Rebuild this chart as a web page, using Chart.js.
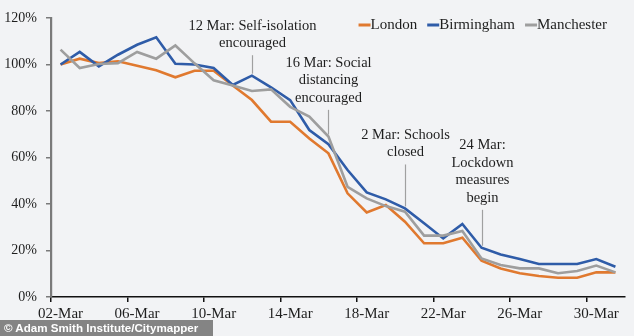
<!DOCTYPE html>
<html>
<head>
<meta charset="utf-8">
<script src="https://cdn.jsdelivr.net/npm/chart.js@4.4.1/dist/chart.umd.min.js"></script>
<style>
  html, body { margin: 0; padding: 0; background: #f2f3f5; }
  #wrap { position: relative; width: 634px; height: 336px; overflow: hidden; background: #f2f3f5; }
  #credit {
    position: absolute; left: 0; top: 320px; height: 16px; width: 213px;
    background: rgba(120,120,120,0.9); color: #fff;
    font: bold 11.6px "Liberation Sans", Arial, sans-serif; line-height: 16px;
    padding-left: 4px; box-sizing: border-box; white-space: nowrap;
  }
</style>
</head>
<body>
<div id="wrap">
  <canvas id="c" width="634" height="336"></canvas>
  <div id="credit">© Adam Smith Institute/Citymapper</div>
</div>
<script>
const categories = ['02-Mar','03-Mar','04-Mar','05-Mar','06-Mar','07-Mar','08-Mar','09-Mar','10-Mar','11-Mar',
  '12-Mar','13-Mar','14-Mar','15-Mar','16-Mar','17-Mar','18-Mar','19-Mar','20-Mar','21-Mar',
  '22-Mar','23-Mar','24-Mar','25-Mar','26-Mar','27-Mar','28-Mar','29-Mar','30-Mar','31-Mar'];

const london = [100, 102.5, 100.6, 101.4, 99.5, 97.5, 94.5, 97.3, 97.3, 91, 84.7, 75.4, 75.4, 68.2, 61.8,
  44.6, 36.4, 39.6, 32.4, 23.1, 23.1, 25.5, 15.6, 12.3, 10.2, 9.0, 8.3, 8.3, 10.6, 10.6];
const birmingham = [100, 105.4, 99.2, 104.2, 108.5, 111.7, 100.3, 100, 98.5, 91.2, 95.2, 90.2, 84.7, 71.8, 65.7,
  54.6, 45, 42, 38.1, 31.7, 25.2, 31.4, 21.2, 18.3, 16.3, 14.2, 14.2, 14.2, 16.3, 13.0];
const manchester = [106.4, 98.5, 100.2, 100.6, 105.4, 102.5, 108.2, 100.5, 93.2, 91, 88.6, 89.3, 81.8, 77.6, 69,
  47.4, 42.4, 39.1, 36.7, 26.4, 26.4, 28.4, 16.6, 13.8, 12.3, 12.3, 10.2, 11.2, 13.5, 10.6];

const seriesNames = ['London', 'Birmingham', 'Manchester'];
const seriesColors = ['#e0792f', '#2f5ca8', '#9e9e9e'];

const yTicks = [0, 20, 40, 60, 80, 100, 120];

// annotations: category index, text lines, value at top of leader line
const annoIndex = [10, 14, 18, 22];
const annoText = [
  ['12 Mar: Self-isolation', 'encouraged'],
  ['16 Mar: Social', 'distancing', 'encouraged'],
  ['2 Mar: Schools', 'closed'],
  ['24 Mar:', 'Lockdown', 'measures', 'begin']
];
const annoTopValue = [104, 80.5, 57, 37.5];

const SERIF = '"Liberation Serif", "DejaVu Serif", serif';
const TEXT = '#1e1e1e';

const overlay = {
  id: 'overlay',
  afterDatasetsDraw(chart) {
    const ctx = chart.ctx;
    const xs = chart.scales.x, ys = chart.scales.y;
    const all = [london, birmingham, manchester];
    ctx.save();
    ctx.font = '14.5px ' + SERIF;
    ctx.fillStyle = TEXT;
    ctx.textAlign = 'center';
    ctx.textBaseline = 'middle';
    annoIndex.forEach((idx, k) => {
      const x = Math.round(xs.getPixelForValue(idx)) + 0.5;
      const topY = ys.getPixelForValue(annoTopValue[k]);
      const maxV = Math.max(...all.map(a => a[idx]));
      const botY = ys.getPixelForValue(maxV) - 2;
      ctx.strokeStyle = '#a0a0a0';
      ctx.lineWidth = 1.2;
      ctx.beginPath();
      ctx.moveTo(x, topY);
      ctx.lineTo(x, botY);
      ctx.stroke();
      const lines = annoText[k];
      const lh = 17.5;
      lines.forEach((t, j) => {
        const cy = topY - 12 - (lines.length - 1 - j) * lh;
        ctx.fillText(t, x, cy);
      });
    });
    ctx.font = '15px ' + SERIF;
    ctx.textAlign = 'left';
    const dash = 12, gap = 10;
    const widths = seriesNames.map(n => ctx.measureText(n).width);
    const total = widths.reduce((a, b) => a + b, 0) + dash * 3 + gap * 2;
    let lx = chart.chartArea.right - 18 - total;
    const ly = 25;
    seriesNames.forEach((n, i) => {
      ctx.strokeStyle = seriesColors[i];
      ctx.lineWidth = 3;
      ctx.beginPath();
      ctx.moveTo(lx, ly);
      ctx.lineTo(lx + dash, ly);
      ctx.stroke();
      ctx.fillStyle = TEXT;
      ctx.fillText(n, lx + dash, ly);
      lx += dash + widths[i] + gap;
    });
    ctx.restore();
  }
};

const seriesData = [london, birmingham, manchester];
const datasets = seriesData.map((d, i) => ({
  label: seriesNames[i],
  data: d,
  borderColor: seriesColors[i],
  backgroundColor: seriesColors[i],
  borderWidth: 2.6,
  pointRadius: 0,
  tension: 0,
  fill: false,
  order: 2 - i
}));

new Chart(document.getElementById('c'), {
  type: 'line',
  data: { labels: categories, datasets },
  options: {
    responsive: false,
    animation: false,
    layout: { padding: { top: 18, right: 9, left: 0, bottom: 0 } },
    plugins: { legend: { display: false }, tooltip: { enabled: false } },
    scales: {
      x: {
        offset: true,
        grid: {
          offset: true,
          drawOnChartArea: false,
          drawTicks: true,
          tickLength: 5,
          lineWidth: 1.5,
          tickColor: (c) => (c.index !== undefined && c.index % 4 === 0) ? '#111111' : 'rgba(0,0,0,0)'
        },
        border: { display: true, color: '#111111', width: 1.5 },
        ticks: {
          autoSkip: false,
          maxRotation: 0,
          padding: 3,
          color: TEXT,
          font: { family: SERIF, size: 15 },
          callback: (v, i) => (i % 4 === 0 ? categories[i] : '')
        },
        afterFit: (s) => { s.height = 39; }
      },
      y: {
        min: 0,
        max: 120,
        afterBuildTicks: (s) => { s.ticks = yTicks.map(v => ({ value: v })); },
        grid: {
          drawOnChartArea: false,
          drawTicks: true,
          tickLength: 5,
          tickColor: '#7a7a7a',
          lineWidth: 1.5
        },
        border: { display: true, color: '#7a7a7a', width: 2.2 },
        ticks: {
          padding: 9,
          color: TEXT,
          font: { family: SERIF, size: 14 },
          callback: (v) => v + '%'
        },
        afterFit: (s) => { s.width = 51; }
      }
    }
  },
  plugins: [overlay]
});
</script>
</body>
</html>
